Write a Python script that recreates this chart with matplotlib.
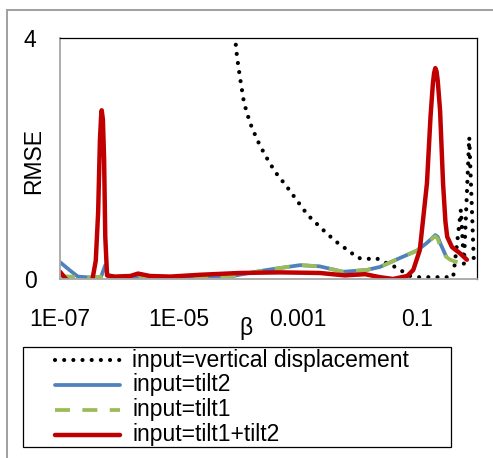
import matplotlib
matplotlib.use("Agg")
import matplotlib.pyplot as plt
from matplotlib.lines import Line2D
from matplotlib.patches import Rectangle
import numpy as np

plt.rcParams['font.family'] = ['Liberation Sans', 'DejaVu Sans']

# ---- data (log10 beta, RMSE) ----
disp_logb = [-4.11, -4.06, -4.03, -3.98, -3.91, -3.81, -3.69, -3.56, -3.39, -3.19, -3.02,
             -2.84, -2.60, -2.38, -2.13, -2.00, -1.85, -1.70, -1.56, -1.43, -1.29, -1.12,
             -1.01, -0.40, -0.27, -0.22, -0.13, -0.05]
disp_rmse = [5.0, 4.0, 3.7, 3.35, 2.92, 2.59, 2.31, 2.06, 1.78, 1.53, 1.30,
             1.06, 0.83, 0.63, 0.45, 0.35, 0.33, 0.35, 0.28, 0.23, 0.15, 0.05,
             0.03, 0.03, 1.15, 0.25, 2.35, 0.20]

tilt2_logb = [-7.00, -6.83, -6.70, -6.41, -6.31, -6.24, -6.19, -5.99, -5.32, -4.65, -4.10,
              -3.53, -2.97, -2.64, -2.25, -1.85, -1.63, -1.29, -1.01, -0.84, -0.74, -0.70,
              -0.66, -0.62, -0.52]
tilt2_rmse = [0.28, 0.14, 0.04, 0.02, 0.04, 0.23, 0.04, 0.02, 0.03, 0.04, 0.05,
              0.15, 0.23, 0.21, 0.12, 0.15, 0.20, 0.35, 0.47, 0.60, 0.69, 0.73,
              0.70, 0.60, 0.38]

tilt1_logb = [-7.00, -6.83, -6.70, -6.41, -6.31, -6.24, -6.19, -5.99, -5.32, -4.65, -4.10,
              -3.53, -2.97, -2.64, -2.25, -1.85, -1.63, -1.29, -1.01, -0.84, -0.74, -0.70,
              -0.66, -0.62, -0.52, -0.45, -0.37, -0.27, -0.17]
tilt1_rmse = [0.05, 0.04, 0.03, 0.03, 0.04, 0.10, 0.03, 0.02, 0.03, 0.04, 0.05,
              0.15, 0.23, 0.21, 0.12, 0.15, 0.20, 0.35, 0.47, 0.60, 0.68, 0.71,
              0.67, 0.55, 0.37, 0.32, 0.29, 0.27, 0.25]

both_logb = [-7.00, -6.90, -6.80, -6.60, -6.46, -6.40, -6.36, -6.33, -6.31, -6.30, -6.28,
             -6.26, -6.24, -6.21, -6.08, -5.82, -5.69, -5.49, -5.15, -4.65, -3.98, -3.31,
             -2.64, -2.22, -1.88, -1.63, -1.41, -1.17, -1.07, -0.96, -0.84, -0.78, -0.74,
             -0.72, -0.70, -0.68, -0.66, -0.62, -0.57, -0.53, -0.50, -0.42, -0.29, -0.17]
both_rmse = [0.12, 0.0, -0.08, -0.10, -0.03, 0.30, 1.10, 2.30, 2.70, 2.80, 2.65,
             2.00, 0.70, 0.06, 0.04, 0.05, 0.09, 0.05, 0.04, 0.07, 0.10, 0.11,
             0.10, 0.06, 0.08, 0.03, 0.00, 0.05, 0.15, 0.48, 1.59, 2.70, 3.25,
             3.42, 3.50, 3.45, 3.30, 2.80, 1.59, 0.95, 0.70, 0.53, 0.43, 0.32]

labels = ['input=vertical displacement', 'input=tilt2', 'input=tilt1', 'input=tilt1+tilt2']
xtick_vals = [1e-7, 1e-5, 1e-3, 1e-1]
xtick_labels = ['1E-07', '1E-05', '0.001', '0.1']
ytick_vals = [0, 4]

W, H = 493, 458
fig = plt.figure(figsize=(W / 100, H / 100), dpi=100)
fig.patch.set_facecolor('white')

def fx(px):
    return px / W

def fy(py):
    return 1 - py / H

ax = fig.add_axes([fx(60), fy(279), fx(477) - fx(60), fy(38) - fy(279)])
ax.set_xscale('log')
ax.set_xlim(1e-7, 1.0)
ax.set_ylim(0, 4)

styles = [
    dict(color='black', lw=3.0, linestyle=(0, (0.001, 2.2)), dash_capstyle='round',
         solid_joinstyle='round'),
    dict(color='#4F81BD', lw=2.7, linestyle='-', solid_capstyle='round', solid_joinstyle='round'),
    dict(color='#9BBB59', lw=2.7, linestyle=(0, (4.0, 3.3)), dash_capstyle='butt',
         dash_joinstyle='round'),
    dict(color='#C00000', lw=3.2, linestyle='-', solid_capstyle='round', solid_joinstyle='round'),
]

series = [(disp_logb, disp_rmse), (tilt2_logb, tilt2_rmse), (tilt1_logb, tilt1_rmse),
          (both_logb, both_rmse)]
for (lb, r), st in zip(series, styles):
    ax.plot(10 ** np.array(lb), r, **st)

ax.set_xticks(xtick_vals)
ax.set_xticklabels(xtick_labels)
ax.xaxis.set_minor_locator(matplotlib.ticker.NullLocator())
ax.set_yticks(ytick_vals)
ax.set_yticklabels([str(v) for v in ytick_vals])
ax.tick_params(axis='both', length=0, labelsize=16.5)
ax.tick_params(axis='x', pad=21)
ax.tick_params(axis='y', pad=17)

for s in ['top', 'right']:
    ax.spines[s].set_color('black')
    ax.spines[s].set_linewidth(0.9)
for s in ['left', 'bottom']:
    ax.spines[s].set_color('#a6a6a6')
    ax.spines[s].set_linewidth(1.3)

fig.text(fx(34), fy(161), 'RMSE', rotation=90, ha='center', va='center', fontsize=16.5)
fig.text(fx(246), fy(329), 'β', ha='center', va='center', fontsize=16.5)

# outer chart frame
fig.add_artist(Rectangle((fx(7), fy(470)), 1.2, fy(10) - fy(470), transform=fig.transFigure,
                         fill=False, edgecolor='#a0a0a0', lw=1.4))

# legend
fig.add_artist(Rectangle((fx(23), fy(447)), fx(451) - fx(23), fy(347) - fy(447),
                         transform=fig.transFigure, fill=False, edgecolor='black', lw=0.9))
rows = [360, 384.5, 409.5, 435]
for lab, st, ry in zip(labels, styles, rows):
    fig.add_artist(Line2D([fx(55), fx(120)], [fy(ry), fy(ry)], transform=fig.transFigure, **st))
    fig.text(fx(132), fy(ry), lab, ha='left', va='center', fontsize=16.5)

fig.savefig('out.png', dpi=100, facecolor='white')
